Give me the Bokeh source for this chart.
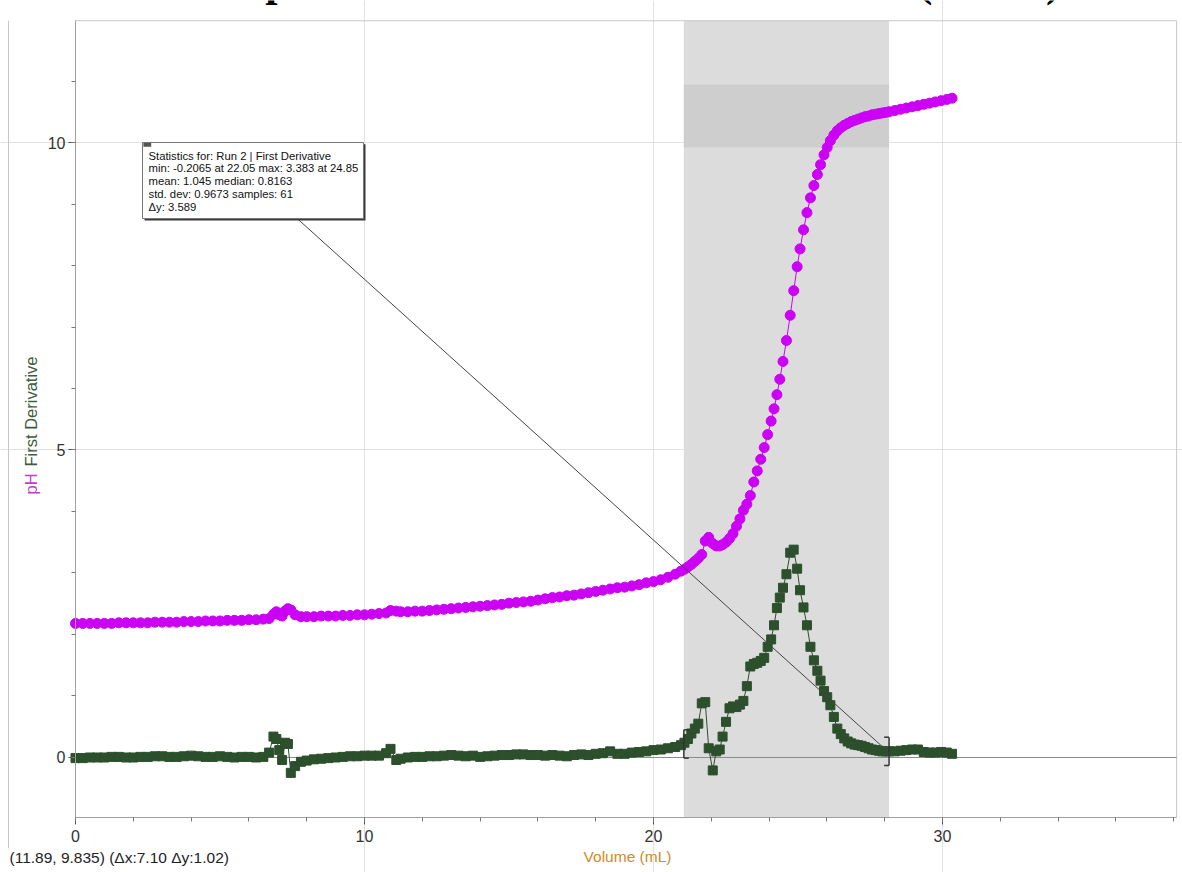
import math
from bokeh.plotting import figure
from bokeh.models import FixedTicker, Label, Range1d, ColumnDataSource
from bokeh.embed import file_html
from bokeh.resources import INLINE

# ---------------- data ----------------
volume = [
    0.0, 0.25, 0.5, 0.75, 1.0, 1.25, 1.5, 1.75, 2.0, 2.25, 2.5, 2.75, 3.0, 3.25,
    3.5, 3.75, 4.0, 4.25, 4.5, 4.75, 5.0, 5.25, 5.5, 5.75, 6.0, 6.25, 6.5,
    6.7, 6.85, 6.95, 7.05, 7.15, 7.25, 7.35, 7.45, 7.6, 7.8,
    8.0, 8.25, 8.5, 8.75, 9.0, 9.25, 9.5, 9.75, 10.0, 10.25, 10.5, 10.75,
    10.9, 11.1, 11.25, 11.5,
    11.75, 12.0, 12.25, 12.5, 12.75, 13.0, 13.25, 13.5, 13.75, 14.0, 14.25,
    14.5, 14.75, 15.0, 15.25, 15.5, 15.75, 16.0, 16.25, 16.5, 16.75, 17.0,
    17.25, 17.5, 17.75, 18.0, 18.25, 18.5, 18.75, 19.0, 19.25, 19.5, 19.75,
    20.0, 20.25, 20.5, 20.75,
    20.95, 21.07, 21.19, 21.31, 21.43, 21.55, 21.67, 21.79, 21.91,
    22.05, 22.17, 22.29, 22.39, 22.51, 22.63, 22.75, 22.87, 22.99,
    23.11, 23.23, 23.35, 23.47, 23.59, 23.71, 23.83, 23.95,
    24.07, 24.17, 24.27, 24.37, 24.48, 24.6, 24.73, 24.85, 24.97,
    25.07, 25.19, 25.31, 25.43, 25.55, 25.67, 25.78, 25.9,
    26.01, 26.12, 26.24, 26.36, 26.48, 26.6, 26.72, 26.84, 26.96,
    27.08, 27.2, 27.32, 27.44, 27.56, 27.68, 27.8, 27.92,
    28.04, 28.15,
    28.35, 28.55, 28.75, 28.95, 29.15, 29.35, 29.55, 29.75, 29.95, 30.15,
    30.33,
]

ph = [
    2.18, 2.18, 2.18, 2.18, 2.18, 2.18, 2.19, 2.19, 2.19, 2.19, 2.19, 2.2, 2.2, 2.2,
    2.2, 2.21, 2.21, 2.21, 2.22, 2.22, 2.22, 2.23, 2.23, 2.23, 2.24, 2.24, 2.25,
    2.26, 2.33, 2.37, 2.32, 2.3, 2.38, 2.42, 2.4, 2.32, 2.29,
    2.29, 2.29, 2.3, 2.3, 2.3, 2.31, 2.31, 2.32, 2.32, 2.33, 2.34, 2.35,
    2.39, 2.38, 2.37, 2.37,
    2.38, 2.38, 2.39, 2.4, 2.41, 2.42, 2.43, 2.44, 2.45, 2.46, 2.47,
    2.48, 2.49, 2.51, 2.52, 2.53, 2.54, 2.56, 2.58, 2.6, 2.61, 2.63,
    2.64, 2.66, 2.68, 2.7, 2.72, 2.74, 2.76, 2.77, 2.79, 2.81, 2.84,
    2.86, 2.89, 2.93, 2.98,
    3.03, 3.06, 3.1, 3.14, 3.19, 3.24, 3.3, 3.52, 3.58,
    3.48, 3.44, 3.44, 3.46, 3.5, 3.56, 3.64, 3.76, 3.88,
    4.02, 4.12, 4.26, 4.48, 4.66, 4.85, 5.04, 5.25,
    5.47, 5.67, 5.9, 6.15, 6.44, 6.78, 7.19, 7.59, 7.98,
    8.27, 8.58, 8.86, 9.1, 9.3, 9.48, 9.64, 9.8,
    9.92, 10.03, 10.12, 10.19, 10.24, 10.28, 10.31, 10.34, 10.36,
    10.38, 10.4, 10.42, 10.43, 10.45, 10.46, 10.47, 10.48,
    10.49, 10.5,
    10.52, 10.54, 10.56, 10.58, 10.6, 10.62, 10.64, 10.66, 10.68, 10.7,
    10.72,
]

first_derivative = [
    -0.01, -0.01, 0.0, 0.0, 0.0, 0.01, 0.01, 0.0, 0.0, 0.01, 0.01, 0.02, 0.02, 0.01,
    0.01, 0.02, 0.03, 0.02, 0.01, 0.01, 0.02, 0.01, 0.0, 0.01, 0.01, 0.0, 0.01,
    0.08, 0.34, 0.3, 0.12, -0.04, 0.24, 0.22, -0.25, -0.14, -0.07,
    -0.05, -0.03, -0.02, -0.01, 0.0, 0.01, 0.02, 0.02, 0.03, 0.03, 0.03, 0.07,
    0.14, -0.04, -0.02, 0.0,
    0.01, 0.01, 0.02, 0.02, 0.03, 0.04, 0.03, 0.02, 0.03, 0.01, 0.02,
    0.03, 0.04, 0.04, 0.05, 0.05, 0.04, 0.04, 0.03, 0.04, 0.03, 0.02,
    0.04, 0.05, 0.04, 0.06, 0.07, 0.1, 0.06, 0.06, 0.08, 0.09, 0.1,
    0.12, 0.13, 0.15, 0.17,
    0.2, 0.24, 0.3, 0.39, 0.47, 0.55, 0.88, 0.9, 0.15,
    -0.21, 0.1, 0.13, 0.34, 0.58, 0.8, 0.83, 0.82, 0.86,
    0.92, 1.16, 1.48, 1.52, 1.54, 1.57, 1.62, 1.8,
    1.92, 2.15, 2.43, 2.6, 2.76, 2.98, 3.33, 3.38, 3.07,
    2.72, 2.44, 2.15, 1.8, 1.58, 1.41, 1.25, 1.08,
    0.98, 0.85, 0.66, 0.47, 0.38, 0.31, 0.26, 0.23, 0.21,
    0.2, 0.19, 0.17, 0.15, 0.13, 0.12, 0.11, 0.1,
    0.1, 0.1,
    0.1, 0.11, 0.12, 0.13, 0.13, 0.09, 0.08, 0.08, 0.09, 0.08,
    0.06,
]

assert len(volume) == len(ph) == len(first_derivative)

x_major_ticks = [0, 10, 20, 30]
x_minor_ticks = [0, 2, 4, 6, 8, 10, 12, 14, 16, 18, 20, 22, 24, 26, 28, 30, 32, 34, 36, 38]
y_major_ticks = [0, 5, 10]
y_minor_ticks = [0, 1, 2, 3, 4, 5, 6, 7, 8, 9, 10, 11]

selection_x = [21.05, 28.15]      # selected region (Δx 7.10)
selection_y = [9.92, 10.94]       # pH band (Δy 1.02)
bracket_y = [0.22, 0.10]          # derivative values at the selection ends

title_text = "Graph 1: Titration of HCl with NaOH (Run 2)"
stats_lines = [
    "Statistics for: Run 2 | First Derivative",
    "min: -0.2065 at 22.05 max: 3.383 at 24.85",
    "mean: 1.045 median: 0.8163",
    "std. dev: 0.9673 samples: 61",
    "\u0394y: 3.589",
]
cursor_text = "(11.89, 9.835) (\u0394x:7.10 \u0394y:1.02)"

# ---------------- styling ----------------
PH_COLOR = "#cc00f5"
DER_COLOR = "#2c4f2c"
FONT = "Liberation Sans"

W, H = 1182, 872
# plotting area of the graph (x 0..38.1, y -0.976..11.98); the figure frame is
# widened to the full canvas so that the outside texts live inside the frame.
XA0, XA1 = 0.0, 38.1
YA0, YA1 = -0.976, 11.98
X0, X1 = -2.595, 38.304
Y0, Y1 = -1.870, 12.309

p = figure(width=W, height=H, output_backend="svg", toolbar_location=None,
           title=None, x_range=Range1d(X0, X1), y_range=Range1d(Y0, Y1),
           min_border=0)
p.background_fill_color = "white"
p.border_fill_color = "white"
p.outline_line_color = None

# grid
p.xgrid.ticker = FixedTicker(ticks=[10, 20, 30])
p.ygrid.ticker = FixedTicker(ticks=[5, 10])
p.xgrid.bounds = (YA0, YA1)
p.ygrid.bounds = (XA0, XA1)
p.grid.grid_line_color = "#e2e2e2"
p.grid.grid_line_width = 1

# axes drawn at the edges of the plotting area
p.xaxis.fixed_location = YA0
p.yaxis.fixed_location = XA0
p.xaxis.bounds = (XA0, XA1)
p.yaxis.bounds = (YA0, YA1)
p.xaxis.ticker = FixedTicker(ticks=x_major_ticks, minor_ticks=x_minor_ticks)
p.yaxis.ticker = FixedTicker(ticks=y_major_ticks, minor_ticks=y_minor_ticks)
for ax in (p.xaxis[0], p.yaxis[0]):
    ax.axis_line_color = "#a0a0a0"
    ax.major_tick_line_color = "#555555"
    ax.minor_tick_line_color = "#777777"
    ax.major_tick_in = 0
    ax.minor_tick_in = 0
    ax.major_tick_out = 7
    ax.minor_tick_out = 4
    ax.major_label_text_font = FONT
    ax.major_label_text_font_size = "16px"
    ax.major_label_text_color = "#333333"
p.xaxis.major_label_standoff = 5
p.yaxis.major_label_standoff = 3

# selection shading
p.quad(left=[selection_x[0]], right=[selection_x[1]], bottom=[YA0], top=[YA1],
       fill_color="#dcdcdc", line_color=None)
p.quad(left=[selection_x[0]], right=[selection_x[1]], bottom=[selection_y[0]],
       top=[selection_y[1]], fill_color="#cecece", line_color=None)

# frame border (top, right) and outer panel edge
p.segment(x0=[XA0, XA1, -2.318], y0=[YA1, YA1, YA1], x1=[XA1, XA1, -2.318],
          y1=[YA1, YA0, -1.48], line_color="#c8c8c8", line_width=1)

# zero line
p.segment(x0=[XA0], y0=[0], x1=[XA1], y1=[0], line_color="#8a8a8a", line_width=1)

src = ColumnDataSource(dict(v=volume, ph=ph, d=first_derivative))

p.line("v", "ph", source=src, line_color=PH_COLOR, line_width=1)
p.scatter("v", "ph", source=src, marker="circle", size=10,
          fill_color=PH_COLOR, line_color=PH_COLOR)

p.line("v", "d", source=src, line_color=DER_COLOR, line_width=1)
p.scatter("v", "d", source=src, marker="square", size=9,
          fill_color=DER_COLOR, line_color=DER_COLOR)

# selection brackets
bx = 0.17
bh = 0.23
p.segment(x0=[selection_x[0]] * 3, x1=[selection_x[0], selection_x[0] + bx, selection_x[0] + bx],
          y0=[bracket_y[0] - bh, bracket_y[0] - bh, bracket_y[0] + bh],
          y1=[bracket_y[0] + bh, bracket_y[0] - bh, bracket_y[0] + bh],
          line_color="#333333", line_width=1.5)
p.segment(x0=[selection_x[1]] * 3, x1=[selection_x[1], selection_x[1] - bx, selection_x[1] - bx],
          y0=[bracket_y[1] - bh, bracket_y[1] - bh, bracket_y[1] + bh],
          y1=[bracket_y[1] + bh, bracket_y[1] - bh, bracket_y[1] + bh],
          line_color="#333333", line_width=1.5)

# leader line from stats box to the selection end
p.segment(x0=[7.68], y0=[8.76], x1=[28.1], y1=[0.1], line_color="#444444", line_width=1)

# statistics box (shadow + box)
p.quad(left=[2.39], right=[10.035], top=[9.97], bottom=[8.73],
       fill_color="#3a3a3a", line_color=None)
p.quad(left=[2.318], right=[9.965], top=[10.0], bottom=[8.764],
       fill_color="white", line_color="#777777", line_width=1)
p.quad(left=[2.35], right=[2.62], top=[9.99], bottom=[9.93],
       fill_color="#555555", line_color=None)

# texts (screen units: x from the left edge, y up from the bottom edge)
for i, line in enumerate(stats_lines):
    p.add_layout(Label(x=148, y=717 - i * 12.8, x_units="screen", y_units="screen",
                       text=line, text_font=FONT, text_font_size="11.3px",
                       text_color="#111111", text_baseline="middle", text_align="left"))

# title: only its lowest part shows at the top edge, as in the reference
p.add_layout(Label(x=625, y=891, x_units="screen", y_units="screen", text=title_text,
                   text_font="Liberation Serif", text_font_style="bold",
                   text_font_size="44px", text_color="black",
                   text_align="center", text_baseline="alphabetic"))

p.add_layout(Label(x=30, y=378, x_units="screen", y_units="screen", text="pH",
                   angle=math.pi / 2, text_font=FONT, text_font_size="16.5px",
                   text_color="#c040c8", text_align="left", text_baseline="middle"))
p.add_layout(Label(x=30, y=406, x_units="screen", y_units="screen", text="First Derivative",
                   angle=math.pi / 2, text_font=FONT, text_font_size="16.5px",
                   text_color="#3d5c3d", text_align="left", text_baseline="middle"))
p.add_layout(Label(x=627, y=16, x_units="screen", y_units="screen", text="Volume (mL)",
                   text_font=FONT, text_font_size="15.5px", text_color="#d08a2a",
                   text_align="center", text_baseline="middle"))
p.add_layout(Label(x=9, y=15, x_units="screen", y_units="screen", text=cursor_text,
                   text_font=FONT, text_font_size="15.5px", text_color="#222222",
                   text_align="left", text_baseline="middle"))

open("out.html", "w").write(file_html(p, INLINE))
